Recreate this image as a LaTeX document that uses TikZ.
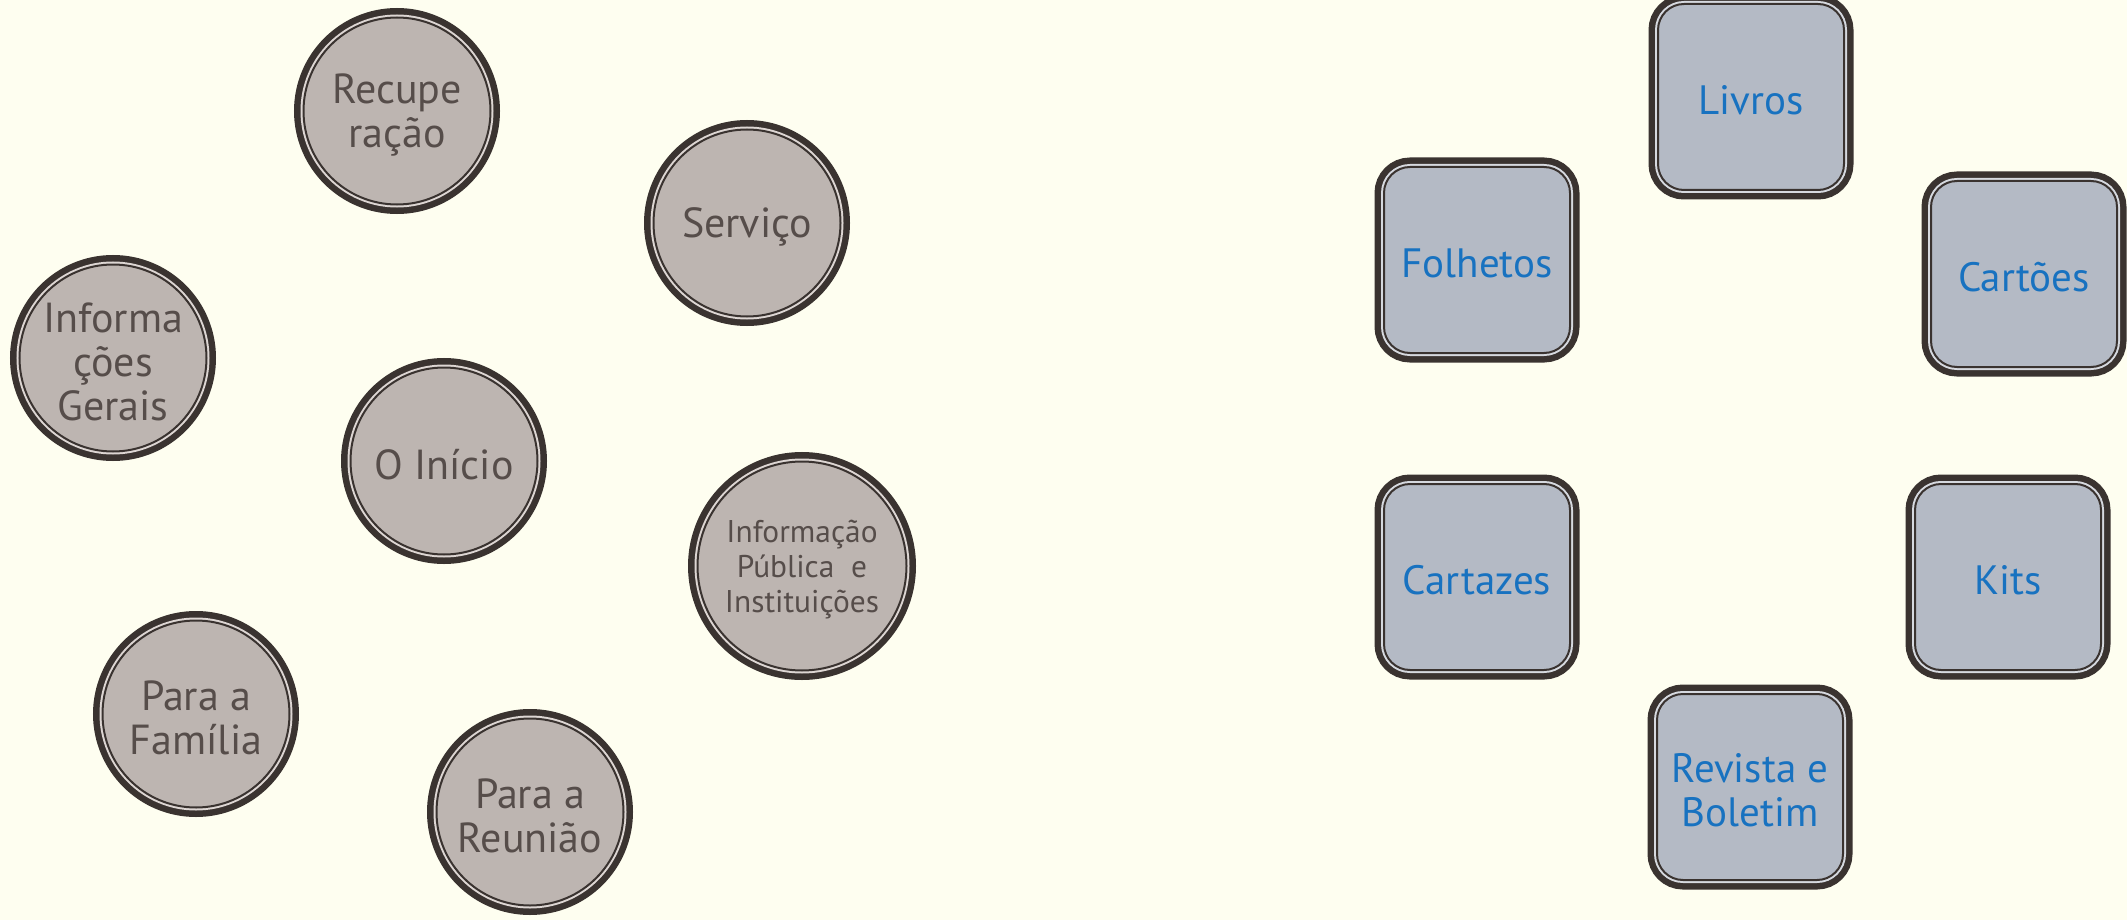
\documentclass[tikz,border=0pt]{standalone}
\usepackage{fontspec}
\setmainfont{PT Sans}
\definecolor{bg}{HTML}{FEFEF0}
\definecolor{ring}{HTML}{3A3330}
\definecolor{cfill}{HTML}{BDB5B1}
\definecolor{cgap}{HTML}{DDD6D3}
\definecolor{sfill}{HTML}{B4BAC5}
\definecolor{sgap}{HTML}{D6D9DF}
\definecolor{ctext}{HTML}{564D4A}
\definecolor{stext}{HTML}{1872C0}
\begin{document}
\begin{tikzpicture}[x=0.5pt,y=-0.5pt,
  ringed/.style={draw=ring, line width=1pt, inner sep=0pt, outer sep=0pt,
    preaction={draw=ring, line width=9.5pt},
    preaction={draw=#1, line width=3pt}},
  disc/.style={circle, ringed=cgap, fill=cfill, minimum size=93.5pt},
  bigdisc/.style={disc, minimum size=104.5pt},
  tile/.style={rectangle, rounded corners=13pt, ringed=sgap, fill=sfill, minimum size=93pt},
  ctxt/.style={align=center, text=ctext, font=\fontsize{21}{22}\selectfont, inner sep=0pt, yshift=-2pt},
  smalltxt/.style={ctxt, font=\fontsize{15.7}{17.5}\selectfont},
  stxt/.style={align=center, text=stext, font=\fontsize{20.5}{22}\selectfont, inner sep=0pt, yshift=-1.5pt}]
\useasboundingbox (0,0) rectangle (2127,920);
\fill[bg] (0,0) rectangle (2127,920);

% circles
\node[disc] (rec) at (397,111) {};
\node[ctxt] (rec-t) at (rec) {Recupe\\ração};
\node[disc] (serv) at (747,223) {};
\node[ctxt] (serv-t) at (serv) {Serviço};
\node[disc] (info) at (113,358) {};
\node[ctxt] (info-t) at (info) {Informa\\ções\\Gerais};
\node[disc] (inicio) at (444,461) {};
\node[ctxt] (inicio-t) at (inicio) {O Início};
\node[bigdisc] (pub) at (802,566) {};
\node[smalltxt] (pub-t) at (pub) {Informação\\Pública\ \ e\\Instituições};
\node[disc] (fam) at (196,714) {};
\node[ctxt] (fam-t) at (fam) {Para a\\Família};
\node[disc] (reu) at (530,812) {};
\node[ctxt] (reu-t) at (reu) {Para a\\Reunião};

% tiles
\node[tile] (livros) at (1751,97) {};
\node[stxt] (livros-t) at (livros) {Livros};
\node[tile] (folhetos) at (1477,260) {};
\node[stxt] (folhetos-t) at (folhetos) {Folhetos};
\node[tile] (cartoes) at (2024,274) {};
\node[stxt] (cartoes-t) at (cartoes) {Cartões};
\node[tile] (cartazes) at (1477,577) {};
\node[stxt] (cartazes-t) at (cartazes) {Cartazes};
\node[tile] (kits) at (2008,577) {};
\node[stxt] (kits-t) at (kits) {Kits};
\node[tile] (revista) at (1750,787) {};
\node[stxt] (revista-t) at (revista) {Revista e\\Boletim};
\end{tikzpicture}
\end{document}
